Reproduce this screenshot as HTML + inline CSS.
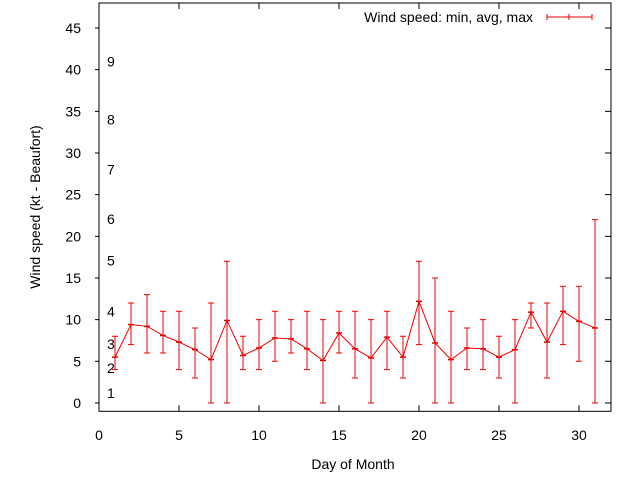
<!DOCTYPE html>
<html><head><meta charset="utf-8"><style>
body{margin:0;background:#fff}
svg{display:block;font-family:"Liberation Sans",sans-serif}
</style></head><body>
<svg id="chart" width="640" height="480">
<rect width="640" height="480" fill="#fff"/>
<g id="grid"></g>
<g id="marks"></g>
<text x="353" y="469" font-size="14" text-anchor="middle">Day of Month</text>
<text x="0" y="0" font-size="14" text-anchor="middle" transform="translate(40,207) rotate(-90)">Wind speed (kt - Beaufort)</text>
<g>
<text x="533" y="22" font-size="14" text-anchor="end">Wind speed: min, avg, max</text>
<path d="M547 17H592M547 14V20M592 14V20M569 14V20" stroke="#e00" stroke-width="1" fill="none"/>
</g>
</svg>
<script>
const days=[1,2,3,4,5,6,7,8,9,10,11,12,13,14,15,16,17,18,19,20,21,22,23,24,25,26,27,28,29,30,31];
const avgVals=[5.5,9.4,9.2,8.1,7.3,6.4,5.2,9.9,5.7,6.6,7.8,7.7,6.5,5.1,8.4,6.5,5.4,7.9,5.5,12.2,7.2,5.2,6.6,6.5,5.5,6.4,10.9,7.3,11,9.8,9];
const minVals=[4,7,6,6,4,3,0,0,4,4,5,6,4,0,6,3,0,4,3,7,0,0,4,4,3,0,9,3,7,5,0];
const maxVals=[8,12,13,11,11,9,12,17,8,10,11,10,11,10,11,11,10,11,8,17,15,11,9,10,8,10,12,12,14,14,22];
const xTicks=[0,5,10,15,20,25,30];
const yTicks=[0,5,10,15,20,25,30,35,40,45];
const beaufort=[["1",1.2],["2",4.2],["3",7.1],["4",11],["5",17.1],["6",22.1],["7",28],["8",34],["9",41]];
const L=99,R=611,T=3,B=411.3;
const xS=v=>L+(v-0)*(R-L)/32;
const yS=v=>B-(v+1)*(B-T)/49;
const NS="http://www.w3.org/2000/svg";
const grid=document.getElementById('grid'),marks=document.getElementById('marks');
function mk(tag,attrs,parent){const e=document.createElementNS(NS,tag);for(const k in attrs)e.setAttribute(k,attrs[k]);parent.appendChild(e);return e;}
const frame=mk('rect',{x:L,y:T,width:R-L,height:B-T,fill:'none',stroke:'#000','stroke-width':1},grid);


xTicks.forEach(v=>{
 const x=xS(v);
 const t=mk('path',{d:`M${x} ${B}V${B-6}M${x} ${T}V${T+6}`,stroke:'#000'},grid);
 
 
 const l=mk('text',{x:x,y:440,'font-size':14,'text-anchor':'middle'},grid);l.textContent=v;
 
 
});
yTicks.forEach(v=>{
 const y=yS(v);
 const t=mk('path',{d:`M${L-4} ${y}H${L}M${R} ${y}H${R-6}`,stroke:'#000'},grid);
 
 
 const l=mk('text',{x:81,y:y+5,'font-size':14,'text-anchor':'end'},grid);l.textContent=v;
 
 
});
beaufort.forEach(b=>{
 const l=mk('text',{x:107,y:yS(b[1])+5,'font-size':14},grid);l.textContent=b[0];
 
 
});
let d='';
days.forEach((dy,i)=>{
 const x=xS(dy),y1=yS(minVals[i]),y2=yS(maxVals[i]);
 const e=mk('path',{d:`M${x} ${y1}V${y2}M${x-3} ${y1}H${x+3}M${x-3} ${y2}H${x+3}`,stroke:'#e00','stroke-width':1,fill:'none'},marks);
 
 
 d+=(i?'L':'M')+x+' '+yS(avgVals[i]);
});
const line=mk('path',{d:d,stroke:'#e00','stroke-width':1,fill:'none'},marks);


days.forEach((dy,i)=>{
 const x=xS(dy),y=yS(avgVals[i]);
 const p=mk('path',{d:`M${x-3} ${y}H${x+3}`,stroke:'#e00','stroke-width':1.5},marks);
 
 
});
</script>
</body></html>
